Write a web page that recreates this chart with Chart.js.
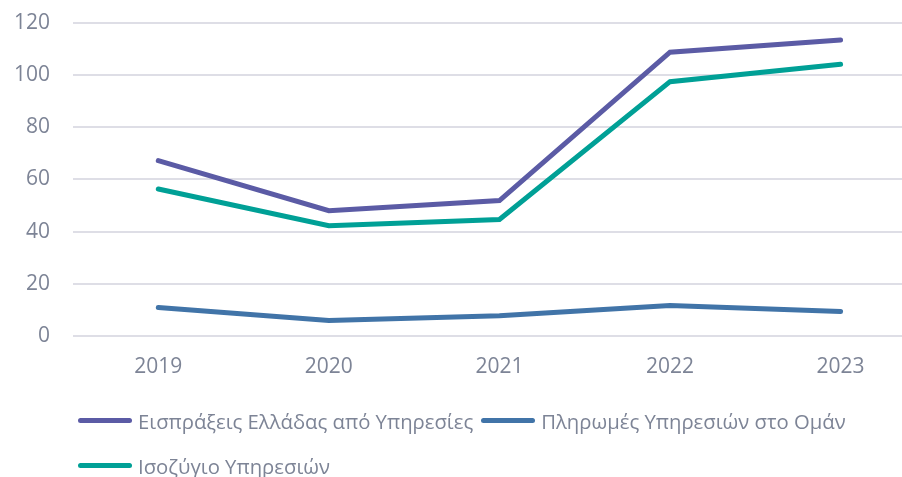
<!DOCTYPE html>
<html>
<head>
<meta charset="utf-8">
<script src="https://cdn.jsdelivr.net/npm/chart.js@4"></script>
<style>
body { margin: 0; background: #fff; }
#wrap { position: relative; width: 902px; height: 477px; font-family: 'Open Sans', sans-serif; }
#chartBox { position: absolute; left: 0; top: 0; width: 902px; height: 410px; }
#legend { position: absolute; left: 78px; top: 398px; width: 800px; margin: 0; padding: 0; list-style: none; display: flex; flex-wrap: wrap; }
#legend li { display: flex; align-items: center; height: 45px; margin-right: 8px; color: #7d8496; font-size: 20.3px; white-space: nowrap; }
#legend li .swatch { display: inline-block; width: 54px; height: 5px; border-radius: 3px; margin-right: 6px; }
</style>
</head>
<body>
<div id="wrap">
	<div id="chartBox"><canvas id="servicesChart"></canvas></div>
	<ul id="legend"></ul>
</div>
<script>
const years = [2019, 2020, 2021, 2022, 2023];
const receipts = [67.2, 48.0, 51.9, 108.8, 113.5];
const payments = [10.9, 5.9, 7.7, 11.6, 9.3];
const balance = [56.3, 42.2, 44.6, 97.5, 104.2];
const yTicks = [0, 20, 40, 60, 80, 100, 120];

const textColor = '#7d8496';
const toPoints = (vals) => vals.map((v, i) => ({ x: years[i], y: v }));

const lineStyle = {
	borderWidth: 5,
	tension: 0,
	pointRadius: 0,
	borderCapStyle: 'round',
	fill: false
};

const ctx = document.getElementById('servicesChart').getContext('2d');
const chart = new Chart(ctx, {
	type: 'line',
	data: {
		datasets: [
			{ label: 'Εισπράξεις Ελλάδας από Υπηρεσίες', data: toPoints(receipts), borderColor: '#5b5ba5', ...lineStyle },
			{ label: 'Πληρωμές Υπηρεσιών στο Ομάν', data: toPoints(payments), borderColor: '#4174a8', ...lineStyle },
			{ label: 'Ισοζύγιο Υπηρεσιών', data: toPoints(balance), borderColor: '#00a096', ...lineStyle }
		]
	},
	options: {
		responsive: true,
		maintainAspectRatio: false,
		animation: false,
		layout: { padding: { top: 23, bottom: 11, left: 0, right: 0 } },
		plugins: {
			legend: { display: false },
			tooltip: { enabled: false }
		},
		scales: {
			x: {
				type: 'linear',
				min: 2018.5,
				max: 2023.36,
				afterBuildTicks: (axis) => { axis.ticks = years.map(v => ({ value: v })); },
				grid: { display: false, drawTicks: false },
				border: { display: false },
				ticks: {
					color: textColor,
					font: { family: 'Open Sans', size: 21 },
					padding: 19,
					maxRotation: 0,
					callback: (v) => String(v)
				}
			},
			y: {
				min: 0,
				max: 120,
				afterBuildTicks: (axis) => { axis.ticks = yTicks.map(v => ({ value: v })); },
				afterFit: (axis) => {
					axis.width = 73;
					axis.paddingTop = 0; // tick padding would otherwise push the plot down
				},
				grid: { color: '#dedee6', lineWidth: 2, drawTicks: false },
				border: { display: false },
				ticks: {
					color: textColor,
					font: { family: 'Open Sans', size: 21 },
					padding: 23
				}
			}
		}
	}
});

// legend as html so the rows can be spaced like the original
const legendEl = document.getElementById('legend');
chart.options.plugins.legend.labels.generateLabels(chart).forEach(item => {
	const li = document.createElement('li');
	const sw = document.createElement('span');
	sw.className = 'swatch';
	sw.style.background = item.strokeStyle;
	li.appendChild(sw);
	li.appendChild(document.createTextNode(item.text));
	legendEl.appendChild(li);
});
</script>
</body>
</html>
